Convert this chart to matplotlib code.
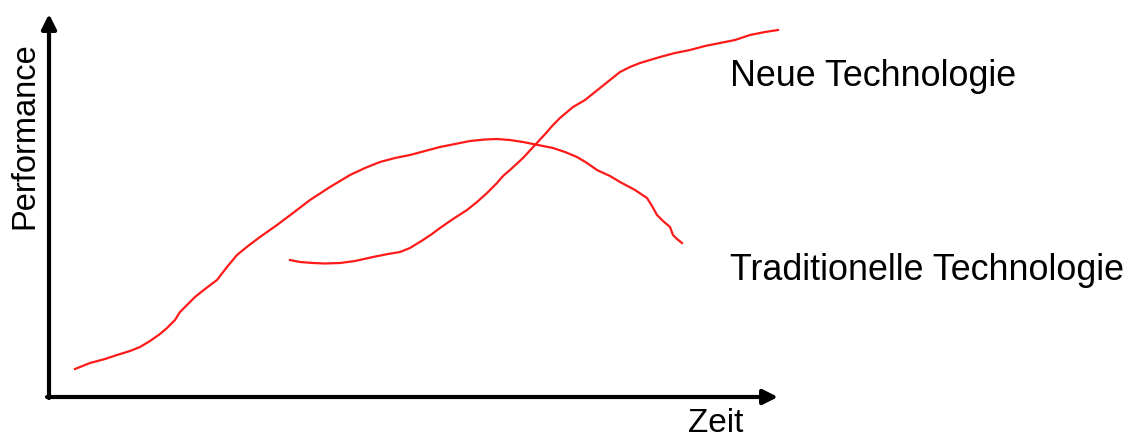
import matplotlib.pyplot as plt
import numpy as np

plt.rcParams['font.family'] = ['Liberation Sans', 'DejaVu Sans']

# curves (x = Zeit, y = Performance, pixel-like units)
trad_x = [75, 90, 105, 117, 130, 140, 150, 160, 167, 175, 180, 188, 195, 205, 217,
          227, 237, 248, 260, 277, 293, 310, 330, 350, 365, 380, 395, 410, 425, 440,
          455, 470, 485, 497, 510, 523, 538, 553, 565, 577, 587, 597, 610, 620, 635,
          647, 652, 657, 663, 670, 673, 677, 682]
trad_y = [369, 363, 359, 355, 351, 347, 341, 334, 328, 320, 312, 304, 297, 289, 280,
          267, 255, 246, 237, 225, 213, 200, 187, 175, 168, 162, 158, 155, 151, 147,
          144, 141, 139.5, 139, 140, 142, 145, 148, 152, 157, 163, 170, 176, 182, 190,
          198, 206, 215, 221, 227, 235, 239, 243]

neu_x = [290, 300, 313, 325, 340, 355, 373, 388, 400, 410, 423, 432, 440, 453, 467,
         477, 487, 497, 503, 510, 523, 535, 547, 553, 560, 573, 585, 600, 610, 620,
         630, 640, 660, 675, 690, 705, 720, 735, 750, 765, 778]
neu_y = [260, 262, 263, 263.5, 263, 261, 257, 254, 252, 248, 240, 234, 228, 219, 210,
         202, 193, 183, 176, 170, 158, 145, 132, 125, 118, 107, 100, 88, 80, 72,
         67, 63, 57, 53, 50, 46, 43, 40, 35, 32, 30]

H = 438
fig = plt.figure(figsize=(11.33, 4.38), dpi=100)
ax = fig.add_axes([0, 0, 1, 1])
ax.set_xlim(0, 1133)
ax.set_ylim(0, H)
ax.axis('off')

ax.plot(trad_x, H - np.array(trad_y), color='#ff1a1a', lw=1.6)
ax.plot(neu_x, H - np.array(neu_y), color='#ff1a1a', lw=1.6)

# axes with arrows
arrow = dict(arrowstyle='-|>', lw=3, color='black', mutation_scale=22, shrinkA=0, shrinkB=0)
ax.annotate('', xy=(49, H - 14), xytext=(49, H - 398), arrowprops=arrow)
ax.annotate('', xy=(778, H - 397), xytext=(47, H - 397), arrowprops=arrow)

ax.text(25, H - 136, 'Performance', rotation=90, fontsize=23.5, ha='center', va='center')
ax.text(716, H - 423, 'Zeit', fontsize=24, ha='center', va='center')
ax.text(730, H - 77, 'Neue Technologie', fontsize=25.8, ha='left', va='center')
ax.text(730, H - 270, 'Traditionelle Technologie', fontsize=25.8, ha='left', va='center')

fig.savefig('out.png', dpi=100)
